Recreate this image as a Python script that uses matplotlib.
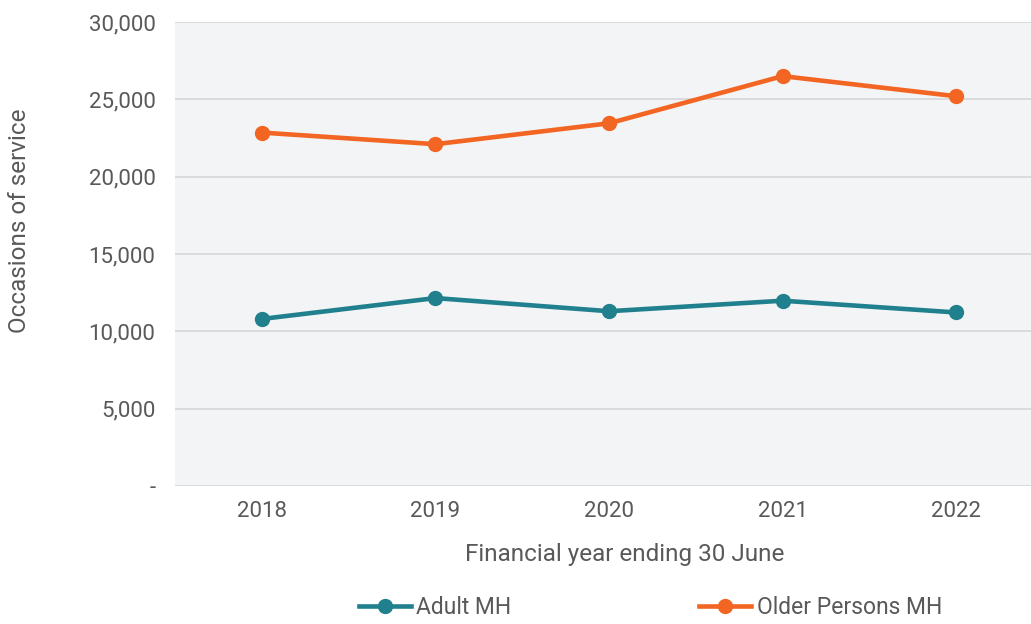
import numpy as np
import matplotlib.pyplot as plt
from matplotlib.ticker import FuncFormatter

# Occasions of service by financial year
years = ['2018', '2019', '2020', '2021', '2022']
adult_mh = [10800, 12150, 11300, 11980, 11220]
older_persons_mh = [22850, 22100, 23450, 26500, 25200]

TEAL = '#21808D'
ORANGE = '#F26522'
TEXT = '#595959'

plt.rcParams['font.family'] = ['Roboto', 'DejaVu Sans']

fig = plt.figure(figsize=(10.31, 6.24), dpi=100)
ax = fig.add_axes([175 / 1031, 1 - 486 / 624, 868 / 1031, 464 / 624])
ax.set_facecolor('#F2F4F6')

x = np.arange(len(years))
ax.plot(x, adult_mh, color=TEAL, linewidth=3.3, marker='o', markersize=10,
        label='Adult MH', zorder=3)
ax.plot(x, older_persons_mh, color=ORANGE, linewidth=3.3, marker='o', markersize=10,
        label='Older Persons MH', zorder=3)

ax.set_xlim(-0.5, 4.5)
ax.set_ylim(0, 30000)
ax.set_yticks(np.arange(0, 30001, 5000))
ax.yaxis.set_major_formatter(FuncFormatter(lambda v, p: '-' if v == 0 else f'{v:,.0f}'))
ax.set_xticks(x)
ax.set_xticklabels(years)

ax.grid(axis='y', color='#D9D9D9', linewidth=1.3)
ax.set_axisbelow(True)
for s in ax.spines.values():
    s.set_visible(False)
ax.tick_params(axis='both', length=0, labelsize=16, colors=TEXT)
ax.tick_params(axis='y', pad=14)
ax.tick_params(axis='x', pad=11)

fig.text(625 / 1031, 1 - 555 / 624, 'Financial year ending 30 June', ha='center', va='center',
         fontsize=17.5, color=TEXT)
fig.text(20 / 1031, 1 - 221 / 624, 'Occasions of service', ha='center', va='center',
         rotation=90, fontsize=17.5, color=TEXT)

fig.legend(loc='center left', bbox_to_anchor=(359 / 1031, 1 - 608 / 624), ncol=2,
           frameon=False, fontsize=16.5, labelcolor=TEXT, handlelength=2.25,
           handletextpad=0.25, columnspacing=8.2, borderaxespad=0, borderpad=0)

fig.savefig('out.png', dpi=100)
